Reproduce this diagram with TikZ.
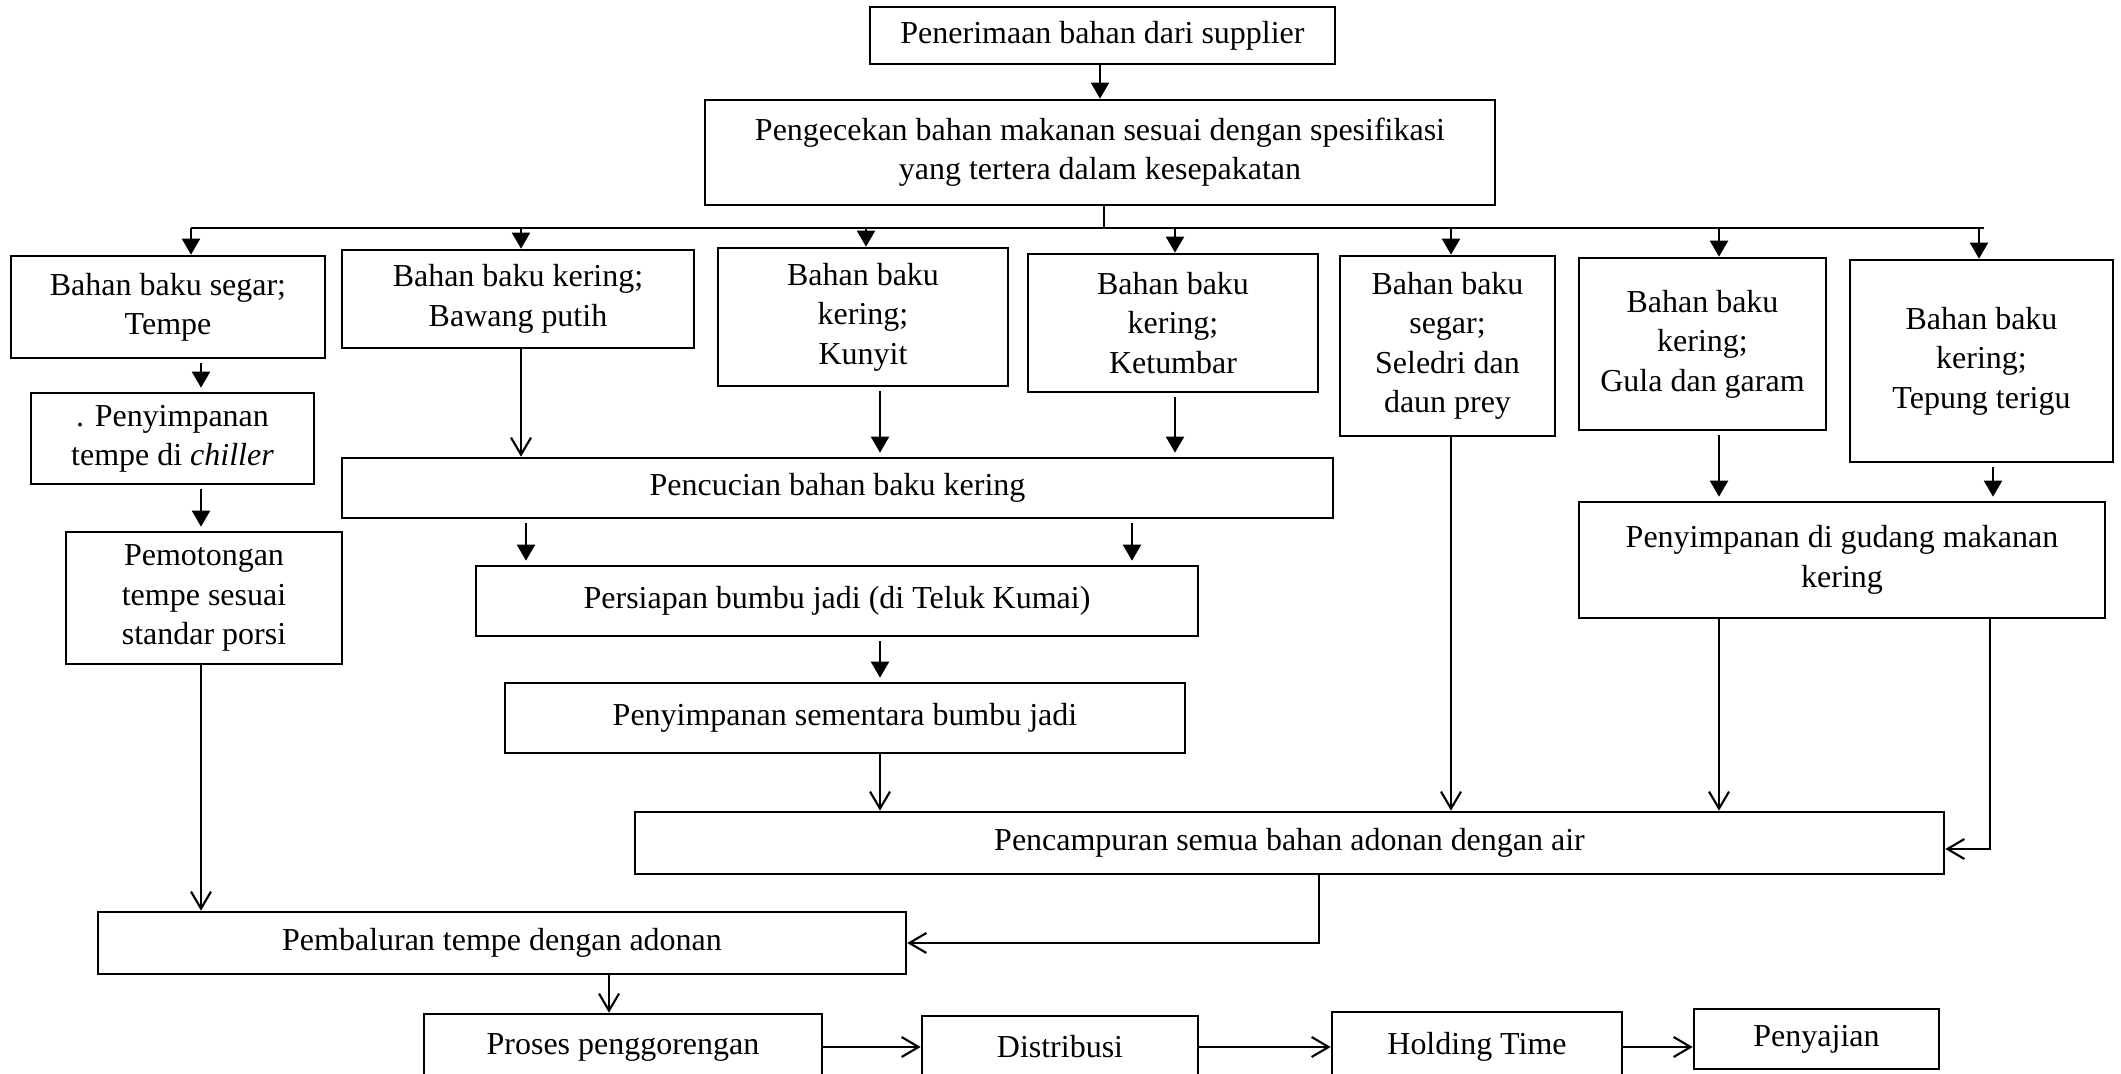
\documentclass[tikz,border=0pt]{standalone}
\usepackage{fontspec}
\setmainfont{Liberation Serif}
\usetikzlibrary{arrows.meta}

\begin{document}
\begin{tikzpicture}[every node/.style={font=\fontsize{9.1}{11.2}\selectfont}]
  \tikzset{
    box/.style={draw,line width=0.75pt,align=center,inner sep=1pt},
    fil/.style={line width=0.6pt,-{Triangle[length=1.6mm,width=1.8mm]}},
    opn/.style={line width=0.6pt,-{Straight Barb[length=1.7mm,width=2mm]}}
  }
  \useasboundingbox (0,0) rectangle (21.21,10.73);
  % top
  \node[box,minimum width=4.65cm,minimum height=0.57cm] (sup) at (11.025,10.375) {Penerimaan bahan dari supplier};
  \node[box,minimum width=7.9cm,minimum height=1.05cm] (cek) at (11.0,9.205) {Pengecekan bahan makanan sesuai dengan spesifikasi\\yang tertera dalam kesepakatan};
  % bahan baku
  \node[box,minimum width=3.14cm,minimum height=1.02cm] (tempe) at (1.68,7.66) {Bahan baku segar;\\Tempe};
  \node[box,minimum width=3.52cm,minimum height=0.98cm] (bawang) at (5.18,7.74) {Bahan baku kering;\\Bawang putih};
  \node[box,minimum width=2.9cm,minimum height=1.38cm] (kunyit) at (8.63,7.56) {Bahan baku\\kering;\\Kunyit};
  \node[box,minimum width=2.9cm,minimum height=1.38cm] (ketumbar) at (11.73,7.5) {Bahan baku\\kering;\\Ketumbar};
  \node[box,minimum width=2.15cm,minimum height=1.8cm] (seledri) at (14.475,7.27) {Bahan baku\\segar;\\Seledri dan\\daun prey};
  \node[box,minimum width=2.47cm,minimum height=1.72cm] (gula) at (17.025,7.29) {Bahan baku\\kering;\\Gula dan garam};
  \node[box,minimum width=2.63cm,minimum height=2.02cm] (tepung) at (19.815,7.12) {Bahan baku\\kering;\\Tepung terigu};
  % proses
  \node[box,minimum width=2.83cm,minimum height=0.91cm] (chiller) at (1.725,6.345) {. Penyimpanan\\tempe di \textit{chiller}};
  \node[box,minimum width=2.76cm,minimum height=1.32cm] (potong) at (2.04,4.75) {Pemotongan\\tempe sesuai\\standar porsi};
  \node[box,minimum width=9.91cm,minimum height=0.6cm] (cuci) at (8.375,5.85) {Pencucian bahan baku kering};
  \node[box,minimum width=7.22cm,minimum height=0.7cm] (persiapan) at (8.37,4.72) {Persiapan bumbu jadi (di Teluk Kumai)};
  \node[box,minimum width=6.8cm,minimum height=0.7cm] (sementara) at (8.45,3.55) {Penyimpanan sementara bumbu jadi};
  \node[box,minimum width=5.26cm,minimum height=1.16cm] (gudang) at (18.42,5.13) {Penyimpanan di gudang makanan\\kering};
  \node[box,minimum width=13.09cm,minimum height=0.62cm] (campur) at (12.895,2.3) {Pencampuran semua bahan adonan dengan air};
  \node[box,minimum width=8.08cm,minimum height=0.62cm] (balur) at (5.02,1.3) {Pembaluran tempe dengan adonan};
  % bawah
  \node[box,minimum width=3.98cm,minimum height=0.66cm] (goreng) at (6.23,0.26) {Proses penggorengan};
  \node[box,minimum width=2.76cm,minimum height=0.62cm] (distribusi) at (10.6,0.26) {Distribusi};
  \node[box,minimum width=2.9cm,minimum height=0.7cm] (holding) at (14.77,0.26) {Holding Time};
  \node[box,minimum width=2.45cm,minimum height=0.6cm] (sajian) at (18.165,0.34) {Penyajian};

  \draw[fil] (sup.south -| cek) -- (cek.north);
  \coordinate (bus) at (11.04,8.45);
  \draw[line width=0.6pt] (11.04,0 |- cek.south) -- (bus);
  \draw[line width=0.6pt] (1.91,8.45) -- (19.84,8.45);
  \foreach \x/\b in {1.91/tempe,5.21/bawang,8.66/kunyit,11.75/ketumbar,14.51/seledri,17.19/gula,19.79/tepung}
    \draw[fil] (\x,8.45) -- (\x,0 |- \b.north);
  \foreach \x/\a/\b in {2.01/tempe/chiller,2.01/chiller/potong,8.8/kunyit/cuci,11.75/ketumbar/cuci,5.26/cuci/persiapan,11.32/cuci/persiapan,8.8/persiapan/sementara,17.19/gula/gudang,19.93/tepung/gudang}
    \draw[fil,shorten <=0.04cm,shorten >=0.04cm] (\x,0 |- \a.south) -- (\x,0 |- \b.north);
  \foreach \x/\a/\b in {2.01/potong/balur,5.21/bawang/cuci,8.8/sementara/campur,14.51/seledri/campur,17.19/gudang/campur,6.09/balur/goreng}
    \draw[opn] (\x,0 |- \a.south) -- (\x,0 |- \b.north);
  \draw[opn] (19.9,0 |- gudang.south) |- ([yshift=-0.06cm]campur.east);
  \draw[opn] (13.19,0 |- campur.south) |- (balur.east);
  \draw[opn] (goreng.east) -- (distribusi.west);
  \draw[opn] (distribusi.east) -- (holding.west);
  \draw[opn] (holding.east) -- (holding.east -| sajian.west);
\end{tikzpicture}
\end{document}
